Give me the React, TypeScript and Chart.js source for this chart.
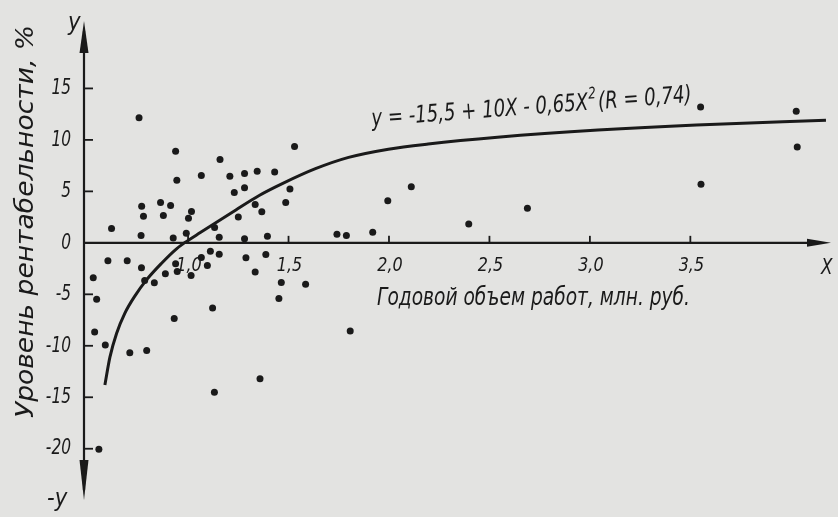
import React, { useEffect, useRef } from "react";
import { Chart, registerables } from "chart.js";

Chart.register(...registerables);

// Годовой объем работ, млн. руб. (X) and уровень рентабельности, % (Y)
const volume = [
  0.756, 0.938, 1.159, 0.944, 1.066, 1.208, 1.281, 1.344, 1.23, 1.281,
  0.769, 0.863, 0.913, 0.778, 0.877, 1.017, 1.002, 1.334, 1.25, 0.619,
  0.766, 0.926, 0.991, 1.132, 1.155, 1.281, 1.53, 1.431, 1.507, 1.367,
  1.486, 1.994, 2.111, 1.395, 1.741, 1.788, 1.919, 3.551, 4.027, 4.032,
  3.553, 2.689, 2.397,
  0.601, 0.697, 0.768, 0.528, 0.784, 0.832, 0.887, 0.938, 0.946, 1.015,
  1.066, 1.111, 1.155, 1.096, 1.288, 1.334, 1.387, 1.464, 1.585, 1.452,
  1.807, 0.545, 1.122, 0.931, 0.535, 0.588, 0.71, 0.794, 1.358, 1.131,
  0.556,
];
const profit = [
  12.14, 8.9, 8.1, 6.09, 6.54, 6.48, 6.74, 6.96, 4.89, 5.34,
  3.56, 3.92, 3.63, 2.59, 2.66, 3.05, 2.4, 3.73, 2.5, 1.4,
  0.72, 0.46, 0.94, 1.5, 0.55, 0.39, 9.36, 6.89, 5.24, 3.01,
  3.92, 4.08, 5.44, 0.65, 0.84, 0.72, 1.04, 13.2, 12.79, 9.32,
  5.7, 3.37, 1.82,
  -1.75, -1.75, -2.43, -3.4, -3.65, -3.88, -3.01, -2.04, -2.78, -3.17,
  -1.42, -0.81, -1.1, -2.19, -1.46, -2.82, -1.13, -3.84, -4.01, -5.4,
  -8.57, -5.47, -6.34, -7.34, -8.67, -9.93, -10.68, -10.45, -13.2, -14.52,
  -20.06,
];

// regression curve as drawn in the figure
const curveX = [
  0.586, 0.611, 0.644, 0.685, 0.734, 0.793, 0.867, 0.941, 0.982, 1.061,
  1.122, 1.238, 1.354, 1.469, 1.634, 1.799, 1.997, 2.195, 2.54, 3.04,
  3.53, 4.175,
];
const curveY = [
  -13.8, -11.1, -8.8, -6.85, -5.2, -3.6, -2.0, -0.6, 0.0, 1.0,
  1.75, 3.2, 4.6, 5.75, 7.2, 8.3, 9.1, 9.6, 10.25, 10.95,
  11.45, 11.9,
];

const xTickValues = [1.0, 1.5, 2.0, 2.5, 3.0, 3.5];
const xTickLabels = ["1,0", "1,5", "2,0", "2,5", "3,0", "3,5"];
const yTickValues = [15, 10, 5, 0, -5, -10, -15, -20];
const yTickLabels = ["15", "10", "5", "0", "-5", "-10", "-15", "-20"];

const xTitle = "Годовой объем работ, млн. руб.";
const yTitle = "Уровень рентабельности, %";
const eqMain = "y = -15,5 + 10X - 0,65X";
const eqSup = "2";
const eqTail = "(R = 0,74)";
const yAxisName = "y";
const yAxisNegName = "-y";
const xAxisName = "X";

const X_MIN = 0.477;
const X_MAX = 4.215;
const Y_MIN = -24.98;
const Y_MAX = 21.55;

const INK = "#1a1a1a";
const PAPER = "#e3e3e1";
const FONT = '"DejaVu Sans", sans-serif';

function drawText(
  ctx: CanvasRenderingContext2D,
  s: string,
  x: number,
  y: number,
  size: number,
  opts: { align?: CanvasTextAlign; baseline?: CanvasTextBaseline; width?: number; condense?: number; rot?: number } = {}
) {
  ctx.save();
  ctx.translate(x, y);
  if (opts.rot) ctx.rotate(opts.rot);
  ctx.font = `italic ${size}px ${FONT}`;
  ctx.textAlign = opts.align || "left";
  ctx.textBaseline = opts.baseline || "alphabetic";
  ctx.fillStyle = INK;
  let sx = opts.condense || 1;
  if (opts.width) {
    const w = ctx.measureText(s).width;
    sx = opts.width / w;
  }
  ctx.scale(sx, 1);
  ctx.fillText(s, 0, 0);
  ctx.restore();
}

const axesPlugin = {
  id: "bookAxes",
  beforeDatasetsDraw(chart: any) {
    const ctx: CanvasRenderingContext2D = chart.ctx;
    const xs = chart.scales.x;
    const ys = chart.scales.y;
    const ax = xs.getPixelForValue(X_MIN) + 1;
    const ay = ys.getPixelForValue(0);
    const top = ys.getPixelForValue(Y_MAX);
    const bottom = ys.getPixelForValue(Y_MIN);
    const right = xs.getPixelForValue(X_MAX) - 3;

    ctx.save();
    ctx.strokeStyle = INK;
    ctx.fillStyle = INK;
    ctx.lineWidth = 2.2;
    ctx.lineCap = "butt";

    // y axis
    ctx.beginPath();
    ctx.moveTo(ax, top + 10);
    ctx.lineTo(ax, bottom - 10);
    ctx.stroke();
    // x axis
    ctx.beginPath();
    ctx.moveTo(ax, ay);
    ctx.lineTo(right - 10, ay);
    ctx.stroke();

    // arrowheads
    ctx.beginPath();
    ctx.moveTo(ax, top);
    ctx.lineTo(ax - 4.5, top + 32);
    ctx.lineTo(ax + 4.5, top + 32);
    ctx.closePath();
    ctx.fill();
    ctx.beginPath();
    ctx.moveTo(ax, bottom);
    ctx.lineTo(ax - 4.5, bottom - 40);
    ctx.lineTo(ax + 4.5, bottom - 40);
    ctx.closePath();
    ctx.fill();
    ctx.beginPath();
    ctx.moveTo(right, ay);
    ctx.lineTo(right - 24, ay - 4);
    ctx.lineTo(right - 24, ay + 4);
    ctx.closePath();
    ctx.fill();

    // y ticks + labels
    ctx.lineWidth = 1.8;
    yTickValues.forEach((v, i) => {
      const py = ys.getPixelForValue(v);
      if (v !== 0) {
        ctx.beginPath();
        ctx.moveTo(ax, py);
        ctx.lineTo(ax + 9, py);
        ctx.stroke();
      }
      drawText(ctx, yTickLabels[i], 71, py, 22, { align: "right", baseline: "middle", condense: 0.7 });
    });

    // x ticks + labels
    xTickValues.forEach((v, i) => {
      const px = xs.getPixelForValue(v);
      ctx.beginPath();
      ctx.moveTo(px, ay);
      ctx.lineTo(px, ay - 7);
      ctx.stroke();
      drawText(ctx, xTickLabels[i], px + 1, ay + 28, 20, { align: "center", condense: 0.8 });
    });

    // axis names
    drawText(ctx, yAxisName, 68, 30, 25, { condense: 0.85 });
    drawText(ctx, yAxisNegName, 47, 506, 25, { condense: 0.85 });
    drawText(ctx, xAxisName, 821, 274, 21, { condense: 0.8 });

    // titles
    drawText(ctx, xTitle, 377, 305, 25, { width: 313 });
    drawText(ctx, yTitle, 33, 418, 25, { width: 393, rot: -Math.PI / 2 });

    // equation (slightly tilted)
    ctx.save();
    ctx.translate(372, 126);
    ctx.rotate((-4.3 * Math.PI) / 180);
    ctx.font = `italic 24px ${FONT}`;
    const wMain = ctx.measureText(eqMain).width;
    const wTail = ctx.measureText(eqTail).width;
    ctx.font = `italic 16px ${FONT}`;
    const wSup = ctx.measureText(eqSup).width;
    const total = wMain + wSup + 3 + wTail;
    const k = 321 / total;
    ctx.scale(k, 1);
    ctx.fillStyle = INK;
    ctx.font = `italic 24px ${FONT}`;
    ctx.fillText(eqMain, 0, 0);
    ctx.font = `italic 16px ${FONT}`;
    ctx.fillText(eqSup, wMain + 1, -11);
    ctx.font = `italic 24px ${FONT}`;
    ctx.fillText(eqTail, wMain + wSup + 3, 0);
    ctx.restore();

    ctx.restore();
  },
};

export default function App() {
  const ref = useRef<HTMLCanvasElement | null>(null);
  useEffect(() => {
    if (!ref.current) return;
    const points = volume.map((v, i) => ({ x: v, y: profit[i] }));
    const curve = curveX.map((v, i) => ({ x: v, y: curveY[i] }));
    const chart = new Chart(ref.current, {
      type: "scatter",
      data: {
        datasets: [
          {
            label: "curve",
            data: curve,
            showLine: true,
            borderColor: INK,
            borderWidth: 3,
            pointRadius: 0,
            cubicInterpolationMode: "monotone",
            fill: false,
          } as any,
          {
            label: "enterprises",
            data: points,
            pointRadius: 3.5,
            pointBackgroundColor: INK,
            pointBorderWidth: 0,
            showLine: false,
          } as any,
        ],
      },
      options: {
        animation: false,
        responsive: false,
        devicePixelRatio: 1,
        events: [],
        layout: { padding: { left: 83, right: 0, top: 21, bottom: 17 } },
        plugins: { legend: { display: false }, tooltip: { enabled: false } },
        scales: {
          x: { type: "linear", min: X_MIN, max: X_MAX, display: false },
          y: { type: "linear", min: Y_MIN, max: Y_MAX, display: false },
        },
      },
      plugins: [axesPlugin],
    });
    return () => chart.destroy();
  }, []);
  return (
    <div style={{ position: "fixed", left: 0, top: 0, width: 838, height: 517, background: PAPER }}>
      <canvas ref={ref} width={838} height={517} style={{ display: "block" }} />
    </div>
  );
}
